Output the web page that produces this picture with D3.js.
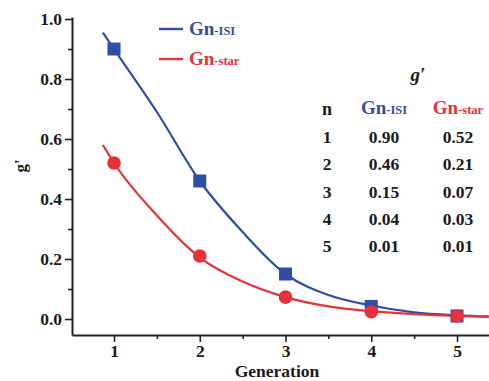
<!DOCTYPE html>
<html><head><meta charset="utf-8">
<script src="https://cdn.jsdelivr.net/npm/d3@7"></script>
<style>
html,body{margin:0;padding:0;background:#fff;}
</style></head>
<body><svg id="c" width="489" height="381"></svg>
<script>
// ---- data ----
const generations = [1, 2, 3, 4, 5];
const isiPoints = [0.90, 0.46, 0.15, 0.042, 0.010];
const starPoints = [0.52, 0.21, 0.073, 0.024, 0.010];
const fitX = [0.87, 1, 1.5, 2, 2.5, 3, 3.5, 4, 4.5, 5, 5.37];
const isiFit = [0.955, 0.90, 0.69, 0.46, 0.29, 0.15, 0.08, 0.045, 0.022, 0.012, 0.008];
const starFit = [0.58, 0.52, 0.345, 0.205, 0.125, 0.073, 0.042, 0.026, 0.016, 0.010, 0.008];
const yTicks = [0.0, 0.2, 0.4, 0.6, 0.8, 1.0];
const yMinor = [0.1, 0.3, 0.5, 0.7, 0.9];
const xMinor = [1.5, 2.5, 3.5, 4.5];
const tableN = ["1", "2", "3", "4", "5"];
const tableISI = ["0.90", "0.46", "0.15", "0.04", "0.01"];
const tableStar = ["0.52", "0.21", "0.07", "0.03", "0.01"];

const FONT = "Liberation Serif";
const BLUE = "#2f4ea6", RED = "#e8313a", AX = "#222", TXT = "#1a1a1a";
const svg = d3.select("#c");
const x = d3.scaleLinear().domain([0.51, 5.373]).range([72, 489]);
const y = d3.scaleLinear().domain([-0.0533, 1.0067]).range([335, 17]);

function txt(parent, size) {
  return parent.append("text").attr("font-family", FONT).attr("font-weight", "bold")
    .attr("font-size", size).attr("fill", TXT);
}

// axes
const gy = svg.append("g").attr("transform", "translate(72,0)");
gy.call(d3.axisLeft(y).tickValues(yTicks).tickFormat(d3.format(".1f")).tickSize(7).tickSizeOuter(0).tickPadding(3));
gy.append("g").call(d3.axisLeft(y).tickValues(yMinor).tickFormat("").tickSize(4).tickSizeOuter(0)).select(".domain").remove();
const gx = svg.append("g").attr("transform", "translate(0,335)");
gx.call(d3.axisBottom(x).tickValues(generations).tickFormat(d3.format("d")).tickSize(7).tickSizeOuter(0).tickPadding(3));
gx.append("g").call(d3.axisBottom(x).tickValues(xMinor).tickFormat("").tickSize(4).tickSizeOuter(0)).select(".domain").remove();
svg.selectAll("g").attr("font-family", FONT);
svg.selectAll(".domain").attr("stroke", AX).attr("stroke-width", 2);
svg.selectAll(".tick line").attr("stroke", AX).attr("stroke-width", 1.6);
svg.selectAll(".tick text").attr("font-family", FONT).attr("font-weight", "bold").attr("font-size", 17.5).attr("fill", TXT);

// axis titles
txt(svg, 17.5).attr("x", 277).attr("y", 377).attr("text-anchor", "middle").text("Generation");
txt(svg, 17).attr("transform", "translate(26,166) rotate(-90)").attr("text-anchor", "middle").text("g'");

// fit curves
const line = d3.line().x(d => x(d[0])).y(d => y(d[1])).curve(d3.curveMonotoneX);
svg.append("path").datum(fitX.map((v, i) => [v, isiFit[i]])).attr("d", line).attr("fill", "none").attr("stroke", BLUE).attr("stroke-width", 2.2);
svg.append("path").datum(fitX.map((v, i) => [v, starFit[i]])).attr("d", line).attr("fill", "none").attr("stroke", RED).attr("stroke-width", 2.2);

// markers
svg.selectAll(".sq").data(generations).enter().append("rect")
  .attr("x", d => x(d) - 6.5).attr("y", (d, i) => y(isiPoints[i]) - 6.5)
  .attr("width", 13).attr("height", 13).attr("fill", BLUE);
svg.selectAll(".ci").data(generations).enter().append("circle")
  .attr("cx", d => x(d)).attr("cy", (d, i) => y(starPoints[i])).attr("r", 6.8).attr("fill", RED);

// series label "Gn-ISI" / "Gn-star"
function label(t, main, sub, color) {
  t.attr("fill", color);
  t.append("tspan").attr("font-size", 19).text(main);
  t.append("tspan").attr("font-size", 12.5).text(sub);
  return t;
}
const legend = [["Gn", "-ISI", BLUE, 29], ["Gn", "-star", RED, 59]];
legend.forEach(l => {
  svg.append("line").attr("x1", 159).attr("x2", 183).attr("y1", l[3]).attr("y2", l[3]).attr("stroke", l[2]).attr("stroke-width", 2.4);
  label(txt(svg, 19).attr("x", 189).attr("y", l[3] + 6), l[0], l[1], l[2]);
});

// table
txt(svg, 19).attr("x", 418).attr("y", 81).attr("text-anchor", "middle").attr("font-style", "italic").text("g′");
const colX = [327, 384, 458];
txt(svg, 18).attr("x", colX[0]).attr("y", 115).attr("text-anchor", "middle").text("n");
label(txt(svg, 19).attr("x", colX[1]).attr("y", 114).attr("text-anchor", "middle"), "Gn", "-ISI", BLUE);
label(txt(svg, 19).attr("x", colX[2]).attr("y", 114).attr("text-anchor", "middle"), "Gn", "-star", RED);
const rowY = d3.scaleLinear().domain([0, 4]).range([143, 252]);
[tableN, tableISI, tableStar].forEach((col, c) => {
  col.forEach((v, i) => {
    txt(svg, 17.5).attr("x", colX[c]).attr("y", rowY(i)).attr("text-anchor", "middle").text(v);
  });
});
</script></body></html>
